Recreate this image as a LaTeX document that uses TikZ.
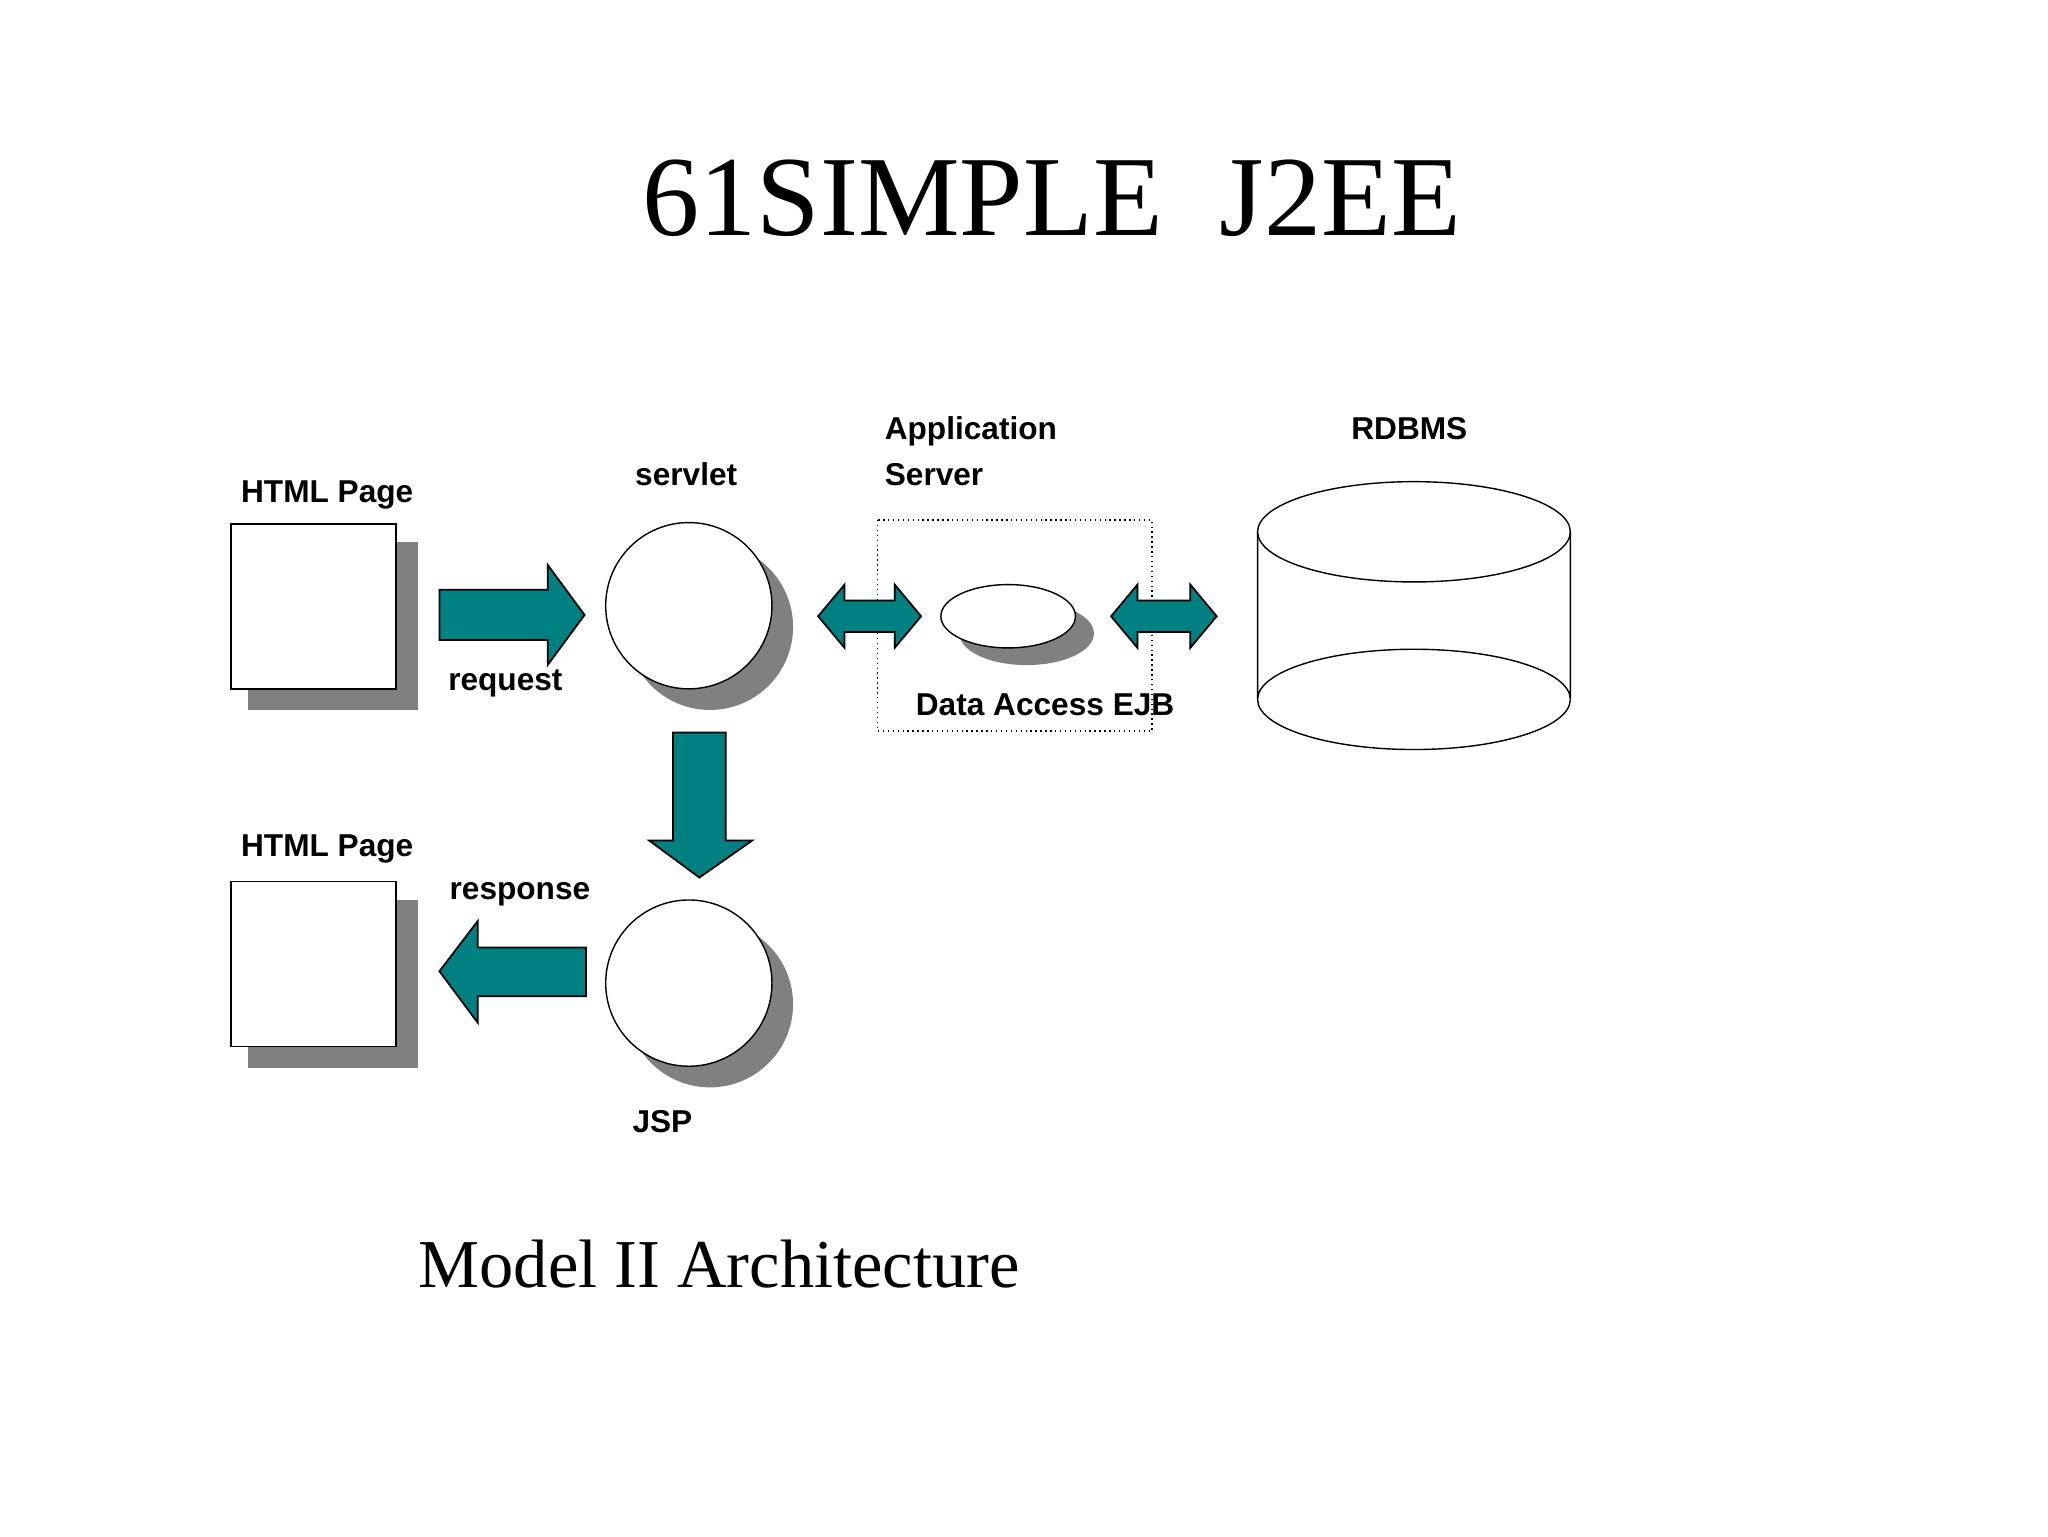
\documentclass[tikz,border=0pt]{standalone}
\usetikzlibrary{shapes.geometric}
\usepackage{fontspec}
\setmainfont{Liberation Serif}
\newfontfamily\lbl{Liberation Sans}
\begin{document}
\begin{tikzpicture}[x=0.013196cm,y=-0.013196cm,
  shadowc/.style={fill=black!50,draw=none},
  teal arrow/.style={fill={rgb,255:red,0;green,128;blue,128},draw=black,line width=0.5pt},
  lab/.style={font=\lbl\fontsize{9}{11}\selectfont\bfseries,inner sep=0pt}]
\useasboundingbox (0,0) rectangle (1552,1164);
\node[font=\fontsize{32.5}{36}\selectfont] (title) at (797,150) {61SIMPLE\ \ J2EE};
% HTML page 1
\fill[shadowc] (188,411) rectangle (317,538);
\node[draw,fill=white,minimum width=125*0.013196cm,minimum height=125*0.013196cm,inner sep=0pt] (h1) at (237.5,459.5) {};
\node[lab] (h1l) at (248,375) {HTML Page};
% request arrow
\draw[teal arrow] (333,447) -- (415,447) -- (415,428) -- (443,466) -- (415,504) -- (415,485) -- (333,485) -- cycle;
\node[lab] (req) at (383,518) {request};
% servlet
\fill[shadowc] (538,475) circle (63);
\node[draw,fill=white,circle,minimum size=126*0.013196cm,inner sep=0pt] (sv) at (522,459) {};
\node[lab] (svl) at (520,359) {servlet};
% app server box
\draw[densely dotted] (665,394) rectangle (873,554);
\node[lab,align=left,anchor=west] (asl) at (670,342) {Application\\[2pt]Server};
% double arrows
\draw[teal arrow] (620,467) -- (640,443) -- (640,455) -- (678,455) -- (678,443) -- (698,467) -- (678,491) -- (678,479) -- (640,479) -- (640,491) -- cycle;
\draw[teal arrow] (842,467) -- (862,443) -- (862,455) -- (902,455) -- (902,443) -- (922,467) -- (902,491) -- (902,479) -- (862,479) -- (862,491) -- cycle;
% EJB
\fill[shadowc] (778,480) ellipse (51 and 24);
\node[draw,fill=white,ellipse,minimum width=102*0.013196cm,minimum height=48*0.013196cm,inner sep=0pt] (ejb) at (764,467) {};
\node[lab] (ejbl) at (792,534) {Data Access EJB};
% RDBMS
\draw[fill=white] (953,403) -- (953,530) arc[start angle=180,end angle=360,x radius=118.5,y radius=38] -- (1190,403);
\draw (953,530) arc[start angle=180,end angle=0,x radius=118.5,y radius=38];
\draw[fill=white] (1071.5,403) ellipse (118.5 and 38);
\node[lab] (db) at (1068,325) {RDBMS};
% down arrow
\draw[teal arrow] (510,555) -- (550,555) -- (550,637) -- (570,637) -- (530,665) -- (492,637) -- (510,637) -- cycle;
% JSP
\fill[shadowc] (538,761) circle (63);
\node[draw,fill=white,circle,minimum size=126*0.013196cm,inner sep=0pt] (jsp) at (522,745) {};
\node[lab] (jspl) at (502,850) {JSP};
% response arrow
\draw[teal arrow] (444,718) -- (362,718) -- (362,698) -- (333,736) -- (362,775) -- (362,755) -- (444,755) -- cycle;
\node[lab] (resp) at (394,678) {response};
% HTML page 2
\fill[shadowc] (188,682) rectangle (317,809);
\node[draw,fill=white,minimum width=125*0.013196cm,minimum height=125*0.013196cm,inner sep=0pt] (h2) at (237.5,730.5) {};
\node[lab] (h2l) at (248,643) {HTML Page};
\node[font=\fontsize{19.5}{22}\selectfont] (cap) at (545,958) {Model II Architecture};
\end{tikzpicture}
\end{document}
